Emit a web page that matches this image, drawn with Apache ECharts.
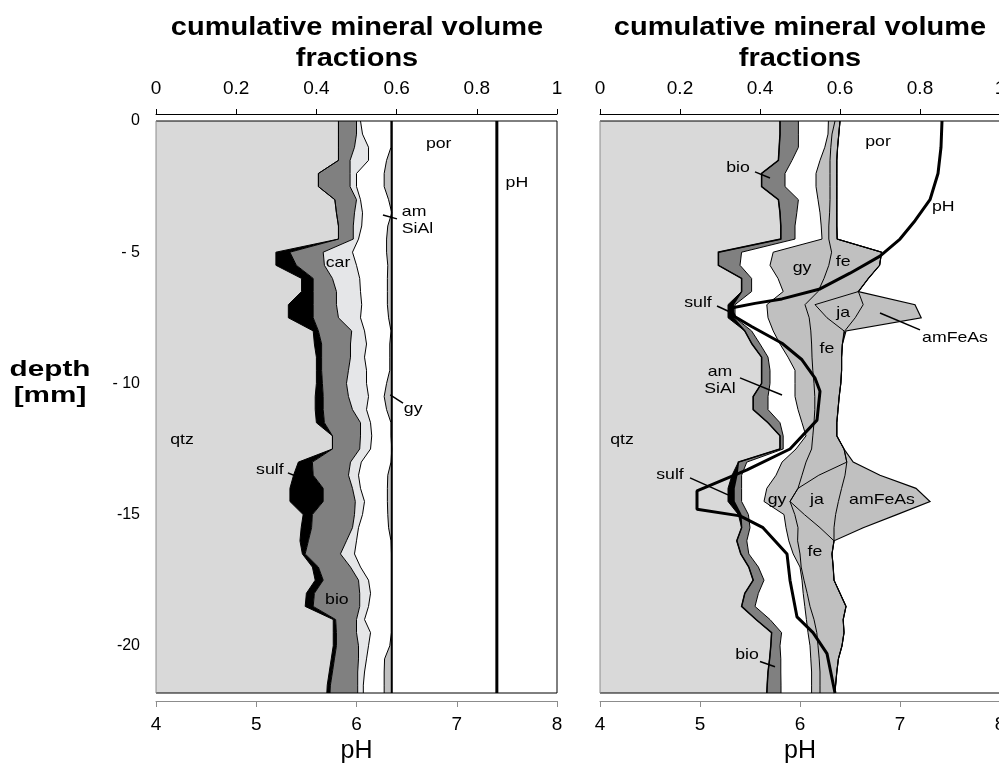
<!DOCTYPE html>
<html><head><meta charset="utf-8">
<script src="https://cdn.jsdelivr.net/npm/echarts@6/dist/echarts.min.js"></script>
<style>html,body{margin:0;padding:0;background:#fff}#c{width:999px;height:767px}</style>
</head><body><div id="c"></div>
<script>
// ---------- DATA ----------
const depth = [0,-0.5,-1,-1.5,-2,-2.5,-3,-3.5,-4,-4.5,-5,-5.5,-6,-6.5,-7,-7.5,-8,-8.5,-9,-9.5,-10,-10.5,-11,-11.5,-12,-12.5,-13,-13.5,-14,-14.5,-15,-15.5,-16,-16.5,-17,-17.5,-18,-18.5,-19,-19.5,-20,-20.5,-21,-21.5,-21.8];

// left panel: cumulative volume fraction at the right edge of each mineral
const leftQtz = [0.455,0.455,0.455,0.455,0.405,0.405,0.446,0.45,0.455,0.455,0.299,0.299,0.363,0.363,0.33,0.33,0.392,0.395,0.40,0.40,0.40,0.397,0.397,0.40,0.44,0.44,0.355,0.343,0.334,0.334,0.367,0.362,0.359,0.365,0.39,0.397,0.375,0.372,0.442,0.442,0.442,0.437,0.432,0.427,0.426];
const leftSulf = [0.455,0.455,0.455,0.455,0.405,0.405,0.446,0.45,0.455,0.455,0.334,0.35,0.392,0.392,0.392,0.392,0.405,0.413,0.413,0.413,0.415,0.417,0.417,0.42,0.44,0.44,0.39,0.392,0.417,0.417,0.39,0.388,0.38,0.372,0.405,0.417,0.395,0.392,0.448,0.45,0.45,0.445,0.44,0.435,0.434];
const leftBio = [0.50,0.50,0.495,0.484,0.484,0.484,0.50,0.495,0.492,0.492,0.417,0.42,0.44,0.45,0.45,0.455,0.488,0.485,0.485,0.48,0.475,0.48,0.49,0.51,0.51,0.508,0.485,0.48,0.49,0.497,0.495,0.49,0.475,0.46,0.485,0.505,0.508,0.508,0.50,0.50,0.505,0.505,0.503,0.503,0.503];
const leftCar = [0.51,0.515,0.53,0.53,0.50,0.50,0.51,0.515,0.513,0.505,0.49,0.50,0.508,0.51,0.513,0.51,0.52,0.525,0.52,0.525,0.525,0.53,0.525,0.535,0.538,0.535,0.512,0.505,0.51,0.52,0.515,0.505,0.50,0.495,0.51,0.53,0.535,0.53,0.52,0.535,0.53,0.525,0.52,0.517,0.517];
const leftAmSiAl = [0.586,0.586,0.586,0.575,0.569,0.569,0.58,0.588,0.578,0.575,0.575,0.578,0.577,0.577,0.577,0.58,0.586,0.583,0.583,0.583,0.575,0.569,0.575,0.586,0.586,0.588,0.586,0.578,0.577,0.577,0.578,0.58,0.586,0.587,0.587,0.587,0.587,0.587,0.587,0.587,0.583,0.57,0.569,0.569,0.569];
const leftGy = [0.588,0.588,0.588,0.588,0.588,0.588,0.588,0.588,0.588,0.588,0.588,0.588,0.588,0.588,0.588,0.588,0.588,0.588,0.588,0.588,0.588,0.588,0.588,0.588,0.588,0.588,0.588,0.588,0.588,0.588,0.588,0.588,0.588,0.588,0.588,0.588,0.588,0.588,0.588,0.588,0.588,0.588,0.588,0.588,0.588];
const leftPor = [1,1,1,1,1,1,1,1,1,1,1,1,1,1,1,1,1,1,1,1,1,1,1,1,1,1,1,1,1,1,1,1,1,1,1,1,1,1,1,1,1,1,1,1,1];
const leftPH = [7.4, 7.4];
const leftPHDepth = [0, -21.8];

// right panel: cumulative volume fraction at the right edge of each mineral
const rightQtz = [0.45,0.45,0.448,0.446,0.404,0.404,0.446,0.45,0.452,0.452,0.296,0.296,0.354,0.354,0.32,0.32,0.362,0.38,0.404,0.404,0.404,0.383,0.383,0.42,0.45,0.45,0.346,0.33,0.32,0.32,0.346,0.354,0.342,0.352,0.372,0.383,0.362,0.354,0.39,0.429,0.427,0.424,0.42,0.418,0.417];
const rightSulf = [0.45,0.45,0.448,0.446,0.404,0.404,0.446,0.45,0.452,0.452,0.296,0.296,0.354,0.354,0.333,0.333,0.362,0.38,0.404,0.404,0.404,0.383,0.383,0.42,0.45,0.45,0.346,0.342,0.335,0.335,0.352,0.354,0.342,0.352,0.372,0.383,0.362,0.354,0.39,0.429,0.427,0.424,0.42,0.418,0.417];
const rightBio = [0.496,0.496,0.496,0.48,0.4625,0.4625,0.496,0.492,0.4875,0.4875,0.354,0.35,0.379,0.379,0.3375,0.3375,0.379,0.40,0.42,0.425,0.425,0.42,0.42,0.45,0.458,0.458,0.367,0.354,0.354,0.354,0.371,0.375,0.367,0.372,0.396,0.41,0.396,0.3875,0.425,0.454,0.45,0.452,0.452,0.4525,0.4525];
const rightAmSiAl = [0.571,0.57,0.562,0.55,0.54,0.54,0.545,0.55,0.553,0.555,0.433,0.425,0.445,0.458,0.417,0.42,0.433,0.45,0.47,0.4875,0.4875,0.4875,0.495,0.505,0.515,0.49,0.455,0.44,0.417,0.41,0.46,0.465,0.472,0.483,0.5,0.505,0.508,0.512,0.516,0.52,0.525,0.527,0.529,0.529,0.529];
const rightGy = [0.5875,0.58,0.577,0.575,0.575,0.575,0.575,0.574,0.572,0.572,0.579,0.572,0.56,0.545,0.5125,0.523,0.527,0.529,0.53,0.532,0.535,0.537,0.537,0.535,0.532,0.529,0.515,0.505,0.495,0.475,0.487,0.495,0.494,0.5,0.503,0.51,0.518,0.525,0.535,0.542,0.545,0.548,0.55,0.55,0.55];
const rightFe = [0.6,0.597,0.594,0.592,0.592,0.592,0.592,0.592,0.592,0.593,0.704,0.699,0.671,0.646,0.5375,0.5675,0.61,0.606,0.604,0.604,0.602,0.598,0.595,0.592,0.592,0.61,0.617,0.547,0.495,0.475,0.511,0.55,0.585,0.58,0.583,0.585,0.6,0.615,0.608,0.61,0.605,0.596,0.592,0.589,0.5875];
const rightJa = [0.6,0.597,0.594,0.592,0.592,0.592,0.592,0.592,0.592,0.593,0.704,0.699,0.671,0.646,0.658,0.638,0.612,0.606,0.604,0.604,0.602,0.598,0.595,0.592,0.592,0.61,0.617,0.6125,0.604,0.596,0.589,0.585,0.585,0.58,0.583,0.585,0.6,0.615,0.608,0.61,0.605,0.596,0.592,0.589,0.5875];
const rightAmFeAs = [0.6,0.597,0.594,0.592,0.592,0.592,0.592,0.592,0.592,0.593,0.704,0.699,0.671,0.646,0.7875,0.803,0.615,0.606,0.604,0.604,0.602,0.598,0.595,0.592,0.592,0.61,0.633,0.70,0.79,0.825,0.742,0.658,0.585,0.58,0.583,0.585,0.6,0.615,0.608,0.61,0.605,0.596,0.592,0.589,0.5875];
const rightPor = leftPor;
const rightPH = [7.42,7.41,7.38,7.3,7.15,7.0,6.8,6.5,6.2,5.82,5.55,5.3,5.35,5.52,5.82,6.02,6.15,6.2,6.17,5.9,5.47,4.97,4.97,5.4,5.63,5.87,5.9,5.97,6.13,6.27,6.35];
const rightPHDepth = [0,-1,-2,-3,-3.8,-4.5,-5.15,-5.8,-6.4,-6.78,-6.95,-7.14,-7.46,-7.84,-8.47,-9.1,-9.8,-10.3,-11.4,-12.5,-13.3,-14.1,-14.8,-15.05,-15.5,-16.5,-17.5,-18.9,-19.5,-20.3,-21.8];

// axis tick labels
const fracTickLabels = ['0','0.2','0.4','0.6','0.8','1'];
const pHTickLabels = ['4','5','6','7','8'];
const depthTicks = [0,-5,-10,-15,-20];
const depthTickLabels = ['0','- 5','- 10','-15','-20'];

// mineral names (annotation text) with anchor in data units [fraction, depth]
const leftNames = [
  ['por',0.705,-0.88,'center'],['pH',0.90,-2.36,'center'],['am\nSiAl',0.613,-3.8,'left'],
  ['gy',0.618,-10.97,'left'],['car',0.454,-5.41,'center'],['qtz',0.065,-12.16,'center'],
  ['sulf',0.284,-13.3,'center'],['bio',0.451,-18.25,'center']];
const leftPointers = [[0.566,-3.58,0.601,-3.73],[0.584,-10.44,0.616,-10.75],[0.329,-13.41,0.354,-13.57]];
const rightNames = [
  ['bio',0.345,-1.79,'center'],['por',0.695,-0.8,'center'],['pH',0.858,-3.28,'center'],
  ['gy',0.505,-5.6,'center'],['fe',0.608,-5.37,'center'],['ja',0.608,-7.32,'center'],
  ['amFeAs',0.8875,-8.27,'center'],['fe',0.5675,-8.69,'center'],['sulf',0.245,-6.94,'center'],
  ['am\nSiAl',0.30,-9.9,'center'],['qtz',0.055,-12.16,'center'],['sulf',0.175,-13.5,'center'],
  ['gy',0.4425,-14.44,'center'],['ja',0.5425,-14.44,'center'],['amFeAs',0.705,-14.44,'center'],
  ['fe',0.5375,-16.43,'center'],['bio',0.3675,-20.35,'center']];
const rightPointers = [[0.3875,-1.94,0.425,-2.17],[0.2925,-7.05,0.325,-7.28],[0.70,-7.32,0.80,-7.96],
  [0.35,-9.79,0.455,-10.44],[0.225,-13.6,0.32,-14.25],[0.40,-20.6,0.4375,-20.8]];

// ---------- STYLE ----------
const FONT = '"Liberation Sans", Arial, sans-serif';
const STRETCH = 1.18;
const C_QTZ = '#d9d9d9', C_SULF = '#000000', C_BIO = '#808080', C_CAR = '#e5e6e8',
      C_WHITE = '#ffffff', C_LG = '#c0c0c0';
const dMin = -21.8;

function makeRender(bounds, fills, widths, names, pointers) {
  return function (params, api) {
    const ch = [];
    let prev = depth.map(() => 0);
    bounds.forEach((cur, k) => {
      const pts = [];
      for (let i = 0; i < depth.length; i++) pts.push(api.coord([cur[i], depth[i]]));
      for (let i = depth.length - 1; i >= 0; i--) pts.push(api.coord([prev[i], depth[i]]));
      ch.push({type: 'polygon', shape: {points: pts}, style: {fill: fills[k], stroke: null}});
      prev = cur;
    });
    for (let k = 0; k < bounds.length - 1; k++) {
      const pts = depth.map((d, i) => api.coord([bounds[k][i], d]));
      ch.push({type: 'polyline', shape: {points: pts}, style: {stroke: '#000', lineWidth: widths[k], fill: null}});
    }
    const tl = api.coord([0, 0]), tr = api.coord([1, 0]), bl = api.coord([0, dMin]), br = api.coord([1, dMin]);
    ch.push({type: 'line', shape: {x1: tl[0], y1: tl[1], x2: tr[0], y2: tr[1]}, style: {stroke: '#000', lineWidth: 1}});
    ch.push({type: 'line', shape: {x1: bl[0], y1: bl[1], x2: br[0], y2: br[1]}, style: {stroke: '#000', lineWidth: 1}});
    ch.push({type: 'line', shape: {x1: tr[0], y1: tr[1], x2: br[0], y2: br[1]}, style: {stroke: '#000', lineWidth: 1}});
    ch.push({type: 'line', shape: {x1: tl[0], y1: tl[1], x2: bl[0], y2: bl[1]}, style: {stroke: '#8c8c8c', lineWidth: 1}});
    pointers.forEach(p => {
      const a = api.coord([p[0], p[1]]), b = api.coord([p[2], p[3]]);
      ch.push({type: 'line', shape: {x1: a[0], y1: a[1], x2: b[0], y2: b[1]}, style: {stroke: '#000', lineWidth: 1.5}});
    });
    names.forEach(n => {
      const p = api.coord([n[1], n[2]]);
      ch.push({type: 'text', x: p[0], y: p[1], scaleX: STRETCH, style: {text: n[0], fill: '#000', font: '15px ' + FONT,
        align: n[3], verticalAlign: 'middle', lineHeight: 17}});
    });
    return {type: 'group', children: ch};
  };
}

function fracAxis(grid) {
  return {type: 'value', gridIndex: grid, position: 'top', offset: 7, min: 0, max: 1, interval: 0.2,
    axisLine: {show: true, onZero: false, lineStyle: {color: '#000', width: 1}},
    axisTick: {show: true, length: 5, lineStyle: {color: '#000'}},
    splitLine: {show: false},
    axisLabel: {color: '#000', fontSize: 19, fontFamily: FONT, margin: 16,
      formatter: v => fracTickLabels[Math.round(v * 5)]}};
}
function pHAxis(grid) {
  return {type: 'value', gridIndex: grid, position: 'bottom', offset: 8, min: 4, max: 8, interval: 1,
    name: 'pH', nameLocation: 'middle', nameGap: 38,
    nameTextStyle: {color: '#000', fontSize: 25, fontFamily: FONT},
    axisLine: {show: true, onZero: false, lineStyle: {color: '#8c8c8c', width: 1}},
    axisTick: {show: true, length: 6, lineStyle: {color: '#8c8c8c'}},
    splitLine: {show: false},
    axisLabel: {color: '#000', fontSize: 19, fontFamily: FONT, margin: 14,
      formatter: v => pHTickLabels[Math.round(v - 4)]}};
}
function depthAxis(grid, labels) {
  return {type: 'value', gridIndex: grid, min: dMin, max: 0,
    axisLine: {show: false}, axisTick: {show: false}, splitLine: {show: false},
    axisLabel: {show: labels, customValues: depthTicks, color: '#000', fontSize: 16, fontFamily: FONT, margin: 16,
      formatter: v => depthTickLabels[depthTicks.indexOf(Math.round(v))]}};
}

const chart = echarts.init(document.getElementById('c'));
chart.setOption({
  animation: false,
  backgroundColor: '#fff',
  grid: [{left: 156, top: 121, width: 401, height: 572, outerBoundsMode: 'none', containLabel: false},
         {left: 600, top: 121, width: 400, height: 572, outerBoundsMode: 'none', containLabel: false}],
  xAxis: [fracAxis(0), pHAxis(0), fracAxis(1), pHAxis(1)],
  yAxis: [depthAxis(0, true), depthAxis(1, false)],
  graphic: [
    {type: 'text', x: 357, y: 13, scaleX: 1.16, style: {text: 'cumulative mineral volume\nfractions', align: 'center',
      font: 'bold 25px ' + FONT, lineHeight: 31, fill: '#000'}},
    {type: 'text', x: 800, y: 13, scaleX: 1.16, style: {text: 'cumulative mineral volume\nfractions', align: 'center',
      font: 'bold 25px ' + FONT, lineHeight: 31, fill: '#000'}},
    {type: 'text', x: 50, y: 383, scaleX: 1.35, style: {text: 'depth\n[mm]', align: 'center', verticalAlign: 'middle',
      font: 'bold 22px ' + FONT, lineHeight: 26, fill: '#000'}}
  ],
  series: [
    {type: 'custom', xAxisIndex: 0, yAxisIndex: 0, silent: true, z: 2, data: [[0.5, -10]],
      renderItem: makeRender(
        [leftQtz, leftSulf, leftBio, leftCar, leftAmSiAl, leftGy, leftPor],
        [C_QTZ, C_SULF, C_BIO, C_CAR, C_WHITE, C_LG, C_WHITE],
        [1, 1, 1, 1, 1, 2], leftNames, leftPointers)},
    {type: 'line', xAxisIndex: 1, yAxisIndex: 0, z: 5, symbol: 'none', silent: true,
      data: leftPH.map((p, i) => [p, leftPHDepth[i]]), lineStyle: {color: '#000', width: 3}},
    {type: 'custom', xAxisIndex: 2, yAxisIndex: 1, silent: true, z: 2, data: [[0.5, -10]],
      renderItem: makeRender(
        [rightQtz, rightSulf, rightBio, rightAmSiAl, rightGy, rightFe, rightJa, rightAmFeAs, rightPor],
        [C_QTZ, C_SULF, C_BIO, C_WHITE, C_LG, C_LG, C_LG, C_LG, C_WHITE],
        [1, 1.5, 1, 1, 1, 1, 1, 1.2], rightNames, rightPointers)},
    {type: 'line', xAxisIndex: 3, yAxisIndex: 1, z: 5, symbol: 'none', silent: true,
      data: rightPH.map((p, i) => [p, rightPHDepth[i]]), lineStyle: {color: '#000', width: 3}}
  ]
});
</script></body></html>
